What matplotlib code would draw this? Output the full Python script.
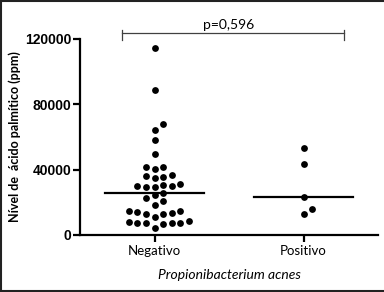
import numpy as np
import matplotlib.pyplot as plt
from matplotlib.lines import Line2D

# values (ppm)
categories = ["Negativo", "Positivo"]
negativo = [114700, 89000, 67800, 64500, 58200, 49800,
            41400, 41400, 40200, 36700, 36100, 35700, 34700,
            31200, 30800, 30000, 30000, 29600, 29200,
            26000, 24700, 22700, 20600, 18400,
            14900, 14700, 13900, 13300, 12900, 12900, 11200,
            8400, 8000, 7600, 7100, 7100, 7100, 6700, 4500]
positivo = [53400, 43700, 23300, 15900, 13100]
p_text = "p=0,596"
yticks = [0, 40000, 80000, 120000]


def swarm_offsets(values, px_per_unit, step=8.6, min_dist=7.8):
    # grid based swarm in pixel space, lowest values placed first
    order = np.argsort(values)
    placed = []
    offs = np.zeros(len(values))
    cands = [0]
    for k in range(1, 12):
        cands += [k, -k]
    for i in order:
        y = values[i] * px_per_unit
        for c in cands:
            x = c * step
            if all(np.hypot(x - px, y - py) >= min_dist for px, py in placed):
                break
        placed.append((x, y))
        offs[i] = x
    return offs


fig = plt.figure(figsize=(3.84, 2.92), dpi=100)
ax = fig.add_axes([80 / 384, 1 - 235 / 292, 298 / 384, 196 / 292])
ax.set_xlim(0.5, 2.5)
ax.set_ylim(0, 120000)

px_per_val = 196 / 120000
px_per_x = 149.0
for i, vals in enumerate([negativo, positivo]):
    vals = np.array(vals, dtype=float)
    xs = i + 1 + swarm_offsets(vals, px_per_val) / px_per_x
    ax.scatter(xs, vals, s=24, color="black", zorder=3, clip_on=False, linewidths=0)
    med = np.median(vals)
    ax.plot([i + 1 - 0.335, i + 1 + 0.335], [med, med], color="black", lw=1.6, zorder=4)

for side in ["top", "right"]:
    ax.spines[side].set_visible(False)
for side in ["left", "bottom"]:
    ax.spines[side].set_linewidth(1.6)

ax.set_yticks(yticks)
ax.set_yticklabels([str(t) for t in yticks], fontfamily="Liberation Sans",
                   fontweight="bold", fontsize=10)
ax.set_xticks([1, 2])
ax.set_xticklabels(categories, fontfamily="Lato", fontsize=9.5)
ax.tick_params(axis="y", length=5, width=1.6, pad=1)
ax.tick_params(axis="x", length=5, width=1.6, pad=2)

ax.set_ylabel("Nível de  ácido palmítico (ppm)", fontfamily="Lato",
              fontweight="bold", fontsize=9, labelpad=3)
ax.set_xlabel("Propionibacterium acnes", fontfamily="Lato", style="italic",
              fontsize=10, labelpad=9)

# significance bracket
br_y, br_tip = 123800, 119400
ax.plot([0.78, 2.27], [br_y, br_y], color="#404040", lw=0.9, clip_on=False)
ax.plot([0.78, 0.78], [br_tip, br_y + 1500], color="#404040", lw=0.9, clip_on=False)
ax.plot([2.27, 2.27], [br_tip, br_y + 1500], color="#404040", lw=0.9, clip_on=False)
ax.text(1.5, br_y + 1200, p_text, ha="center", va="bottom", fontfamily="Lato",
        fontsize=10, clip_on=False)

# frame around the picture (top, left, bottom)
for xy in [([0, 1], [0.996, 0.996]), ([0.003, 0.003], [0, 1]), ([0, 1], [0.004, 0.004])]:
    fig.add_artist(Line2D(xy[0], xy[1], transform=fig.transFigure, color="#222222", lw=1.5))

fig.savefig("out.png", dpi=100)
